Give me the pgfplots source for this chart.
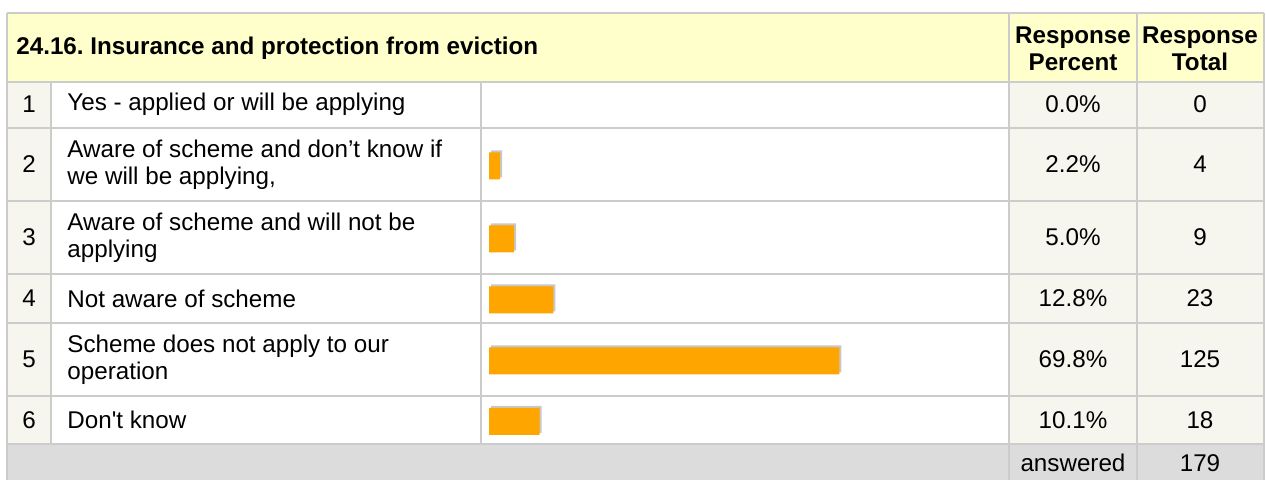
\documentclass[border=0pt]{standalone}
\usepackage{pgfplots}
\pgfplotsset{compat=1.18}
\usepackage{pgfplotstable}
\usepackage{fontspec}
\setmainfont{Liberation Sans}
\frenchspacing
\definecolor{hdr}{HTML}{FFFFCC}
\definecolor{cellbg}{HTML}{F6F6EF}
\definecolor{ansbg}{HTML}{DCDCDC}
\definecolor{gridc}{HTML}{CCCCCC}
\definecolor{barc}{HTML}{FFA500}
\definecolor{shadowc}{HTML}{C8C8C8}

% y = bar centre (pixel rows, downwards), p = response percent, n = response total
\pgfplotstableread{
y     p     n
106.5 0.0   0
166   2.2   4
239   5.0   9
300   12.8  23
361   69.8  125
421.5 10.1  18
}\data

\begin{document}
\begin{tikzpicture}
\useasboundingbox (0,0) rectangle (633pt,240pt);
\pgfplotsset{base/.style={scale only axis, width=633pt, height=240pt,
  at={(0,0)}, anchor=south west, hide axis, y dir=reverse, ymin=0, ymax=480}}
\begin{axis}[base, xmin=0, xmax=1266]
% backgrounds
\fill[hdr] (7,13) rectangle (1264,82);
\fill[white] (7,82) rectangle (1264,444);
\fill[cellbg] (7,82) rectangle (51,444);
\fill[cellbg] (1009,82) rectangle (1264,444);
\fill[ansbg] (7,444) rectangle (1264,480);
% grid lines
\draw[gridc, line width=1pt] (7,13) -- (1264,13);
\draw[gridc, line width=1pt] (7,82) -- (1264,82);
\draw[gridc, line width=1pt] (7,128) -- (1264,128);
\draw[gridc, line width=1pt] (7,201) -- (1264,201);
\draw[gridc, line width=1pt] (7,274) -- (1264,274);
\draw[gridc, line width=1pt] (7,323) -- (1264,323);
\draw[gridc, line width=1pt] (7,396) -- (1264,396);
\draw[gridc, line width=1pt] (7,444) -- (1264,444);
\draw[gridc, line width=1pt] (7,13) -- (7,480);
\draw[gridc, line width=1pt] (1264,13) -- (1264,480);
\draw[gridc, line width=1pt] (1009,13) -- (1009,480);
\draw[gridc, line width=1pt] (1137,13) -- (1137,480);
\draw[gridc, line width=1pt] (51,82) -- (51,444);
\draw[gridc, line width=1pt] (481,82) -- (481,444);
% texts
\begin{scope}[every node/.style={inner sep=0pt, font=\fontsize{12.1pt}{13.5pt}\selectfont}]
\node[anchor=west, font=\fontsize{12.1pt}{13.5pt}\selectfont\bfseries] at (16,48) {24.16. Insurance and protection from eviction};
\node[align=center, font=\fontsize{12.1pt}{13.5pt}\selectfont\bfseries] at (1073,49) {Response\\Percent};
\node[align=center, font=\fontsize{12.1pt}{13.5pt}\selectfont\bfseries] at (1200,49) {Response\\Total};
\node at (29,104) {1};
\node at (29,164.5) {2};
\node at (29,237.5) {3};
\node at (29,298.5) {4};
\node at (29,359.5) {5};
\node at (29,420) {6};
\node[anchor=west] at (67,104) {Yes - applied or will be applying};
\node[anchor=west, align=left] at (67,164.5) {Aware of scheme and don’t know if\\we will be applying,};
\node[anchor=west, align=left] at (67,237.5) {Aware of scheme and will not be\\applying};
\node[anchor=west] at (67,298.5) {Not aware of scheme};
\node[anchor=west, align=left] at (67,359.5) {Scheme does not apply to our\\operation};
\node[anchor=west] at (67,420) {Don\textquotesingle t know};
\node at (1073,104) {0.0\%};
\node at (1073,164.5) {2.2\%};
\node at (1073,237.5) {5.0\%};
\node at (1073,298.5) {12.8\%};
\node at (1073,359.5) {69.8\%};
\node at (1073,420) {10.1\%};
\node at (1200,104) {0};
\node at (1200,164.5) {4};
\node at (1200,237.5) {9};
\node at (1200,298.5) {23};
\node at (1200,359.5) {125};
\node at (1200,420) {18};
\node at (1073,463) {answered};
\node at (1200,463) {179};
\end{scope}
\end{axis}
\begin{axis}[base, xmin=-97.41, xmax=154.78]
\addplot[xbar, bar width=27, fill=shadowc, draw=none, xshift=1pt, yshift=1pt,
  restrict x to domain=0.01:200] table[x=p, y=y] {\data};
\addplot[xbar, bar width=27, fill=barc, draw=none,
  restrict x to domain=0.01:200] table[x=p, y=y] {\data};
\end{axis}
\end{tikzpicture}
\end{document}
